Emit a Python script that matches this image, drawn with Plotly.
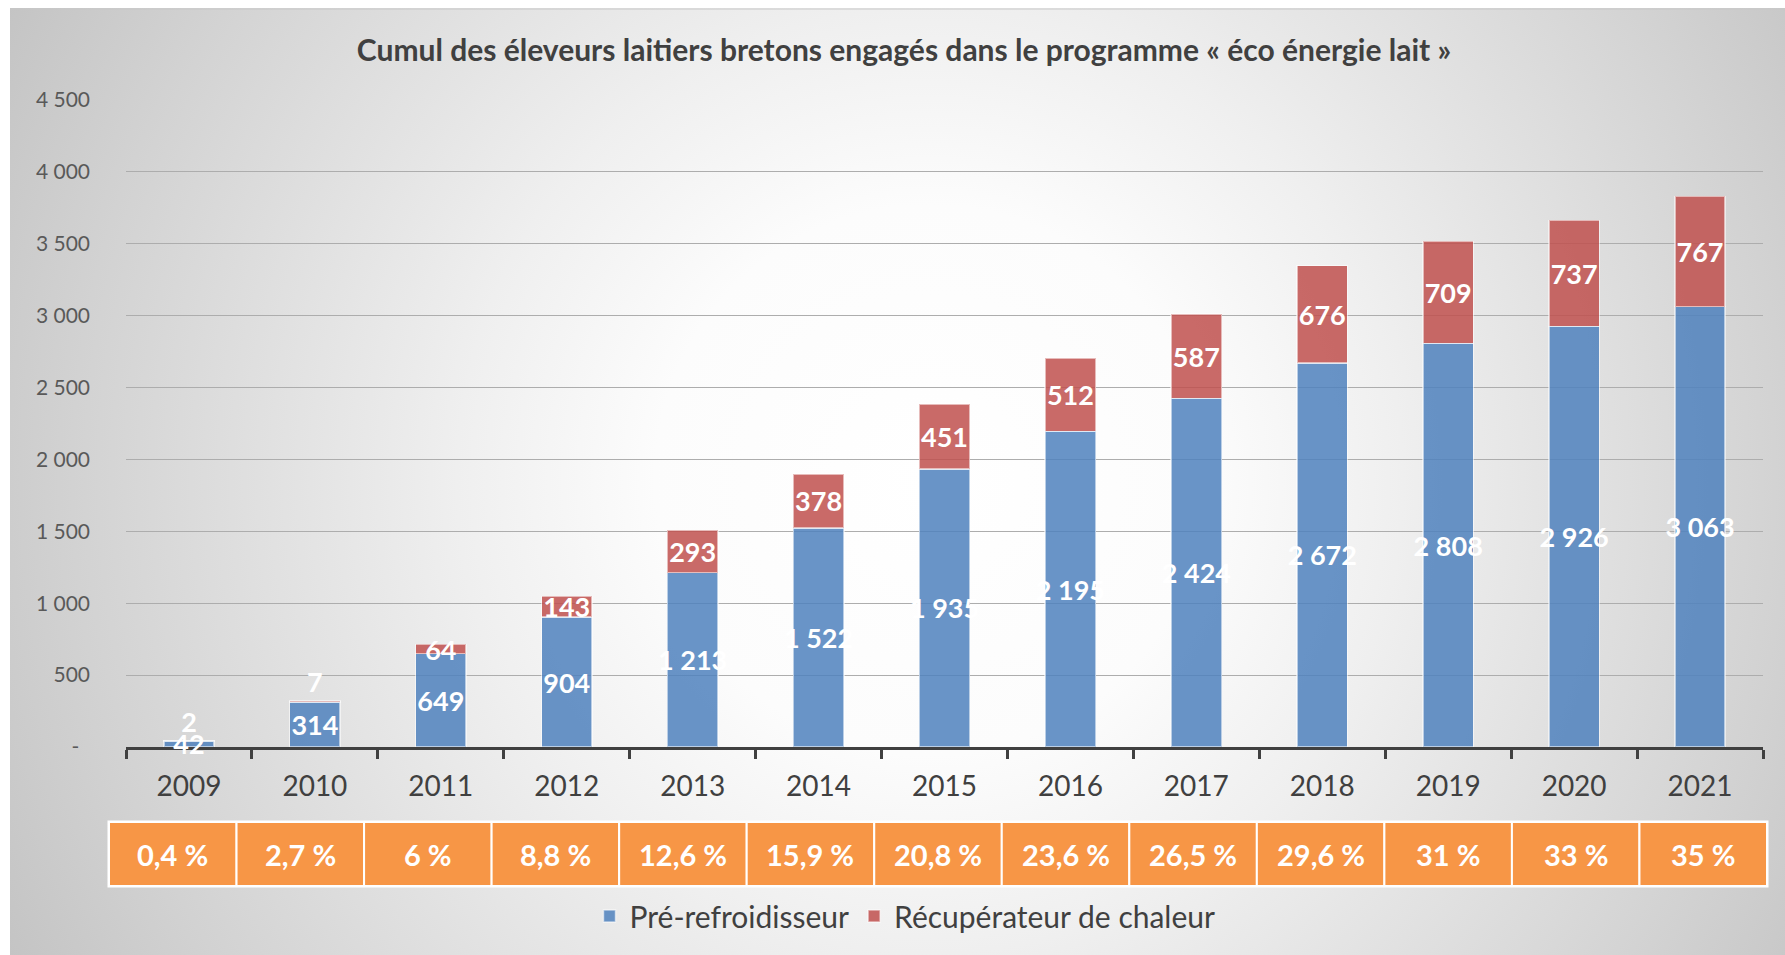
import base64
import plotly.graph_objects as go

# ---------------- data ----------------
years = ["2009", "2010", "2011", "2012", "2013", "2014", "2015",
         "2016", "2017", "2018", "2019", "2020", "2021"]
pre_refroidisseur = [42, 314, 649, 904, 1213, 1522, 1935, 2195, 2424, 2672, 2808, 2926, 3063]
recuperateur = [2, 7, 64, 143, 293, 378, 451, 512, 587, 676, 709, 737, 767]
taux = ["0,4 %", "2,7 %", "6 %", "8,8 %", "12,6 %", "15,9 %", "20,8 %",
        "23,6 %", "26,5 %", "29,6 %", "31 %", "33 %", "35 %"]
y_tick_values = [0, 500, 1000, 1500, 2000, 2500, 3000, 3500, 4000, 4500]
y_tick_labels = ["-\u00a0\u00a0", "500", "1 000", "1 500", "2 000", "2 500",
                 "3 000", "3 500", "4 000", "4 500"]
series_names = ["Pré-refroidisseur", "Récupérateur de chaleur"]
title_text = "Cumul des éleveurs laitiers bretons engagés dans le programme « éco énergie lait »"

# ---------------- geometry (pixels) ----------------
W, H = 1785, 955
PL, PR, PT, PB = 126, 1763, 100, 747   # plot area edges
pw, ph = PR - PL, PB - PT


def px_x(px):
    return (px - PL) / pw


def px_y(py):
    return (PB - py) / ph


FONT = "Lato"
BLUE = "rgba(79,129,189,0.85)"
RED = "rgba(192,80,77,0.85)"

# tiny top segments get their label just above the bar
red_positions = ["outside" if v < 30 else "inside" for v in recuperateur]

fig = go.Figure()
fig.add_trace(go.Bar(
    x=years, y=pre_refroidisseur, name=series_names[0],
    marker=dict(color=BLUE, line=dict(color="rgba(255,255,255,0.55)", width=1.5)),
    texttemplate="%{y:,}", textposition="inside", insidetextanchor="middle",
    constraintext="none", textangle=0, cliponaxis=False,
    textfont=dict(family=FONT, size=27, color="white", weight="bold"),
))
fig.add_trace(go.Bar(
    x=years, y=recuperateur, name=series_names[1],
    marker=dict(color=RED, line=dict(color="rgba(255,255,255,0.55)", width=1.5)),
    texttemplate="%{y:,}", textposition=red_positions, insidetextanchor="middle",
    constraintext="none", textangle=0, cliponaxis=False,
    textfont=dict(family=FONT, size=27, color="white", weight="bold"),
    outsidetextfont=dict(family=FONT, size=27, color="white", weight="bold"),
))

# ---------------- background gradient ----------------
bx0, by0 = 10, 8
bw, bh = W - bx0, H - by0
cx, cy = 930 - bx0, 480 - by0
svg = f'''<svg xmlns="http://www.w3.org/2000/svg" width="{bw}" height="{bh}" viewBox="0 0 {bw} {bh}" preserveAspectRatio="none">
<defs><radialGradient id="g" gradientUnits="userSpaceOnUse" cx="{cx}" cy="{cy}" r="1100">
<stop offset="0" stop-color="#ffffff"/>
<stop offset="0.25" stop-color="#fcfcfc"/>
<stop offset="0.43" stop-color="#efefef"/>
<stop offset="0.78" stop-color="#d2d2d2"/>
<stop offset="1" stop-color="#bfbfbf"/>
</radialGradient></defs>
<rect x="0" y="0" width="{bw}" height="{bh}" fill="url(#g)"/>
<rect x="0" y="0.5" width="{bw}" height="1" fill="#c8c8c8"/>
</svg>'''
src = "data:image/svg+xml;base64," + base64.b64encode(svg.encode()).decode()
images = [dict(source=src, xref="paper", yref="paper",
               x=px_x(bx0), y=px_y(by0), sizex=bw / pw, sizey=bh / ph,
               xanchor="left", yanchor="top", sizing="stretch", layer="below")]

# ---------------- percentage table ----------------
shapes, annotations = [], []
tx0, tx1, ty0, ty1 = 109, 1767, 822, 886
cw = (tx1 - tx0) / len(taux)
shapes.append(dict(type="rect", xref="paper", yref="paper",
                   x0=px_x(tx0), x1=px_x(tx1), y0=px_y(ty1), y1=px_y(ty0),
                   fillcolor="#F79646", line=dict(color="white", width=3), layer="above"))
for i, t in enumerate(taux):
    a, b = tx0 + i * cw, tx0 + (i + 1) * cw
    shapes.append(dict(type="rect", xref="paper", yref="paper",
                       x0=px_x(a), x1=px_x(b), y0=px_y(ty1), y1=px_y(ty0),
                       fillcolor="#F79646", line=dict(color="white", width=2)))
    annotations.append(dict(xref="paper", yref="paper", x=px_x((a + b) / 2),
                            y=px_y((ty0 + ty1) / 2), text=t, showarrow=False,
                            xanchor="center", yanchor="middle",
                            font=dict(family=FONT, size=29, color="white", weight="bold")))

fig.update_layout(
    width=W, height=H,
    margin=dict(l=PL, r=W - PR, t=PT, b=H - PB, pad=0),
    paper_bgcolor="white", plot_bgcolor="rgba(0,0,0,0)",
    barmode="stack", bargap=0.6,
    separators=", ",
    font=dict(family=FONT, color="#404040"),
    title=dict(text=title_text, x=904 / W, xanchor="center", y=1 - 50 / H, yanchor="middle",
               font=dict(family=FONT, size=30, color="#404040", weight="bold")),
    xaxis=dict(type="category", showgrid=False, showline=True, linecolor="#404040", linewidth=3,
               ticks="outside", tickson="boundaries", ticklen=9, tickwidth=3, tickcolor="#404040",
               tickfont=dict(family=FONT, size=28, color="#404040"), ticklabelstandoff=12,
               range=[-0.5, len(years) - 0.5], layer="below traces"),
    yaxis=dict(range=[0, 4500], tickvals=y_tick_values, ticktext=y_tick_labels,
               showgrid=True, gridcolor="#adadad", gridwidth=1, zeroline=False, showline=False,
               tickfont=dict(family=FONT, size=21, color="#595959"), ticklabelstandoff=35),
    legend=dict(orientation="h", x=px_x(905), xanchor="center", y=px_y(916), yanchor="middle",
                font=dict(family=FONT, size=30, color="#404040"), bgcolor="rgba(0,0,0,0)",
                traceorder="normal"),
    images=images, shapes=shapes, annotations=annotations,
)

fig.write_html("out.html", config={"displayModeBar": False},
               post_script="document.body.style.margin='0';document.body.style.overflow='hidden';")
